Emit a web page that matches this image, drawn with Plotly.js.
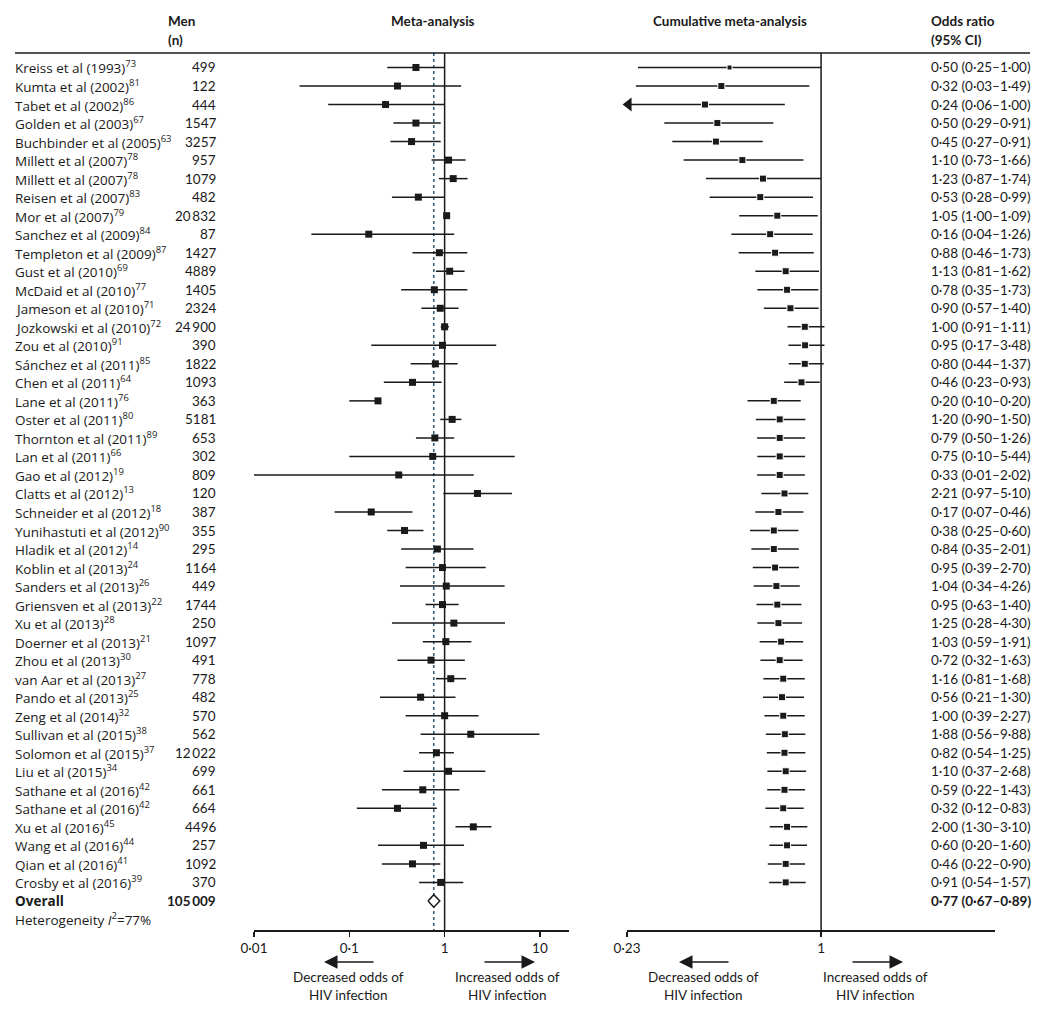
<!DOCTYPE html>
<html><head><meta charset="utf-8">
<script src="https://cdn.plot.ly/plotly-3.0.1.min.js"></script>
<style>html,body{margin:0;padding:0;background:#fff}#chart{width:1050px;height:1019px}</style>
</head><body><div id="chart"></div>
<script>
// ---------- data ----------
const studies = ["Kreiss et al (1993)","Kumta et al (2002)","Tabet et al (2002)","Golden et al (2003)","Buchbinder et al (2005)","Millett et al (2007)","Millett et al (2007)","Reisen et al (2007)","Mor et al (2007)","Sanchez et al (2009)","Templeton et al (2009)","Gust et al (2010)","McDaid et al (2010)","Jameson et al (2010)","Jozkowski et al (2010)","Zou et al (2010)","Sánchez et al (2011)","Chen et al (2011)","Lane et al (2011)","Oster et al (2011)","Thornton et al (2011)","Lan et al (2011)","Gao et al (2012)","Clatts et al (2012)","Schneider et al (2012)","Yunihastuti et al (2012)","Hladik et al (2012)","Koblin et al (2013)","Sanders et al (2013)","Griensven et al (2013)","Xu et al (2013)","Doerner et al (2013)","Zhou et al (2013)","van Aar et al (2013)","Pando et al (2013)","Zeng et al (2014)","Sullivan et al (2015)","Solomon et al (2015)","Liu et al (2015)","Sathane et al (2016)","Sathane et al (2016)","Xu et al (2016)","Wang et al (2016)","Qian et al (2016)","Crosby et al (2016)"];
const refs = [73,81,86,67,63,78,78,83,79,84,87,69,77,71,72,91,85,64,76,80,89,66,19,13,18,90,14,24,26,22,28,21,30,27,25,32,38,37,34,42,42,45,44,41,39];
const menN = [499,122,444,1547,3257,957,1079,482,20832,87,1427,4889,1405,2324,24900,390,1822,1093,363,5181,653,302,809,120,387,355,295,1164,449,1744,250,1097,491,778,482,570,562,12022,699,661,664,4496,257,1092,370];
const orEst = [0.50,0.32,0.24,0.50,0.45,1.10,1.23,0.53,1.05,0.16,0.88,1.13,0.78,0.90,1.00,0.95,0.80,0.46,0.20,1.20,0.79,0.75,0.33,2.21,0.17,0.38,0.84,0.95,1.04,0.95,1.25,1.03,0.72,1.16,0.56,1.00,1.88,0.82,1.10,0.59,0.32,2.00,0.60,0.46,0.91];
const orLo  = [0.25,0.03,0.06,0.29,0.27,0.73,0.87,0.28,1.00,0.04,0.46,0.81,0.35,0.57,0.91,0.17,0.44,0.23,0.10,0.90,0.50,0.10,0.01,0.97,0.07,0.25,0.35,0.39,0.34,0.63,0.28,0.59,0.32,0.81,0.21,0.39,0.56,0.54,0.37,0.22,0.12,1.30,0.20,0.22,0.54];
const orHi  = [1.00,1.49,1.00,0.91,0.91,1.66,1.74,0.99,1.09,1.26,1.73,1.62,1.73,1.40,1.11,3.48,1.37,0.93,0.20,1.50,1.26,5.44,2.02,5.10,0.46,0.60,2.01,2.70,4.26,1.40,4.30,1.91,1.63,1.68,1.30,2.27,9.88,1.25,2.68,1.43,0.83,3.10,1.60,0.90,1.57];
const cumEst = [0.50,0.47,0.415,0.456,0.451,0.551,0.644,0.631,0.718,0.680,0.706,0.765,0.773,0.793,0.884,0.886,0.884,0.862,0.699,0.731,0.731,0.731,0.731,0.758,0.724,0.699,0.699,0.706,0.713,0.718,0.724,0.739,0.731,0.751,0.744,0.751,0.760,0.758,0.765,0.758,0.751,0.773,0.773,0.765,0.765];
const cumLo  = [0.25,0.246,0.225,0.305,0.324,0.353,0.418,0.430,0.538,0.507,0.536,0.608,0.617,0.648,0.775,0.781,0.783,0.756,0.573,0.610,0.616,0.617,0.616,0.636,0.608,0.584,0.590,0.596,0.600,0.613,0.617,0.628,0.632,0.646,0.644,0.651,0.658,0.663,0.666,0.665,0.656,0.678,0.676,0.668,0.675];
const cumHi  = [1.00,0.915,0.76,0.697,0.643,0.875,1.00,0.941,0.975,0.939,0.946,0.985,0.98,0.982,1.026,1.026,1.02,0.99,0.857,0.888,0.886,0.886,0.884,0.908,0.875,0.842,0.845,0.846,0.851,0.862,0.866,0.873,0.870,0.884,0.879,0.884,0.888,0.888,0.893,0.886,0.877,0.901,0.899,0.886,0.890];
const overallN = 105009;
const overallOR = [0.77, 0.67, 0.89];
const heterogeneityI2 = 77;
const leftTicks = [0.01, 0.1, 1, 10];
const leftTickText = ["0·01", "0·1", "1", "10"];
const rightTicks = [0.23, 1];
const rightTickText = ["0·23", "1"];
const nullValue = 1;

// ---------- helpers ----------
const W = 1050, H = 1019;
const px = x => x / W;
const py = y => 1 - y / H;
const FONT = 'Lato, "Open Sans", sans-serif';
const NAMEFONT = '"Open Sans", Lato, sans-serif';
const INK = '#1a1a1a';
const FS = 13.5;
const fmt = v => v.toFixed(2).replace('.', '·');
const fmtN = n => n >= 10000 ? String(n).replace(/(\d)(?=(\d{3})+$)/g, '$1\u2009') : String(n);
const rows = studies.map((_, i) => i + 1);
const overallRow = studies.length + 1;
const hetRow = studies.length + 2;
const yTop = 0.217, yBot = 47.57;

function ciPath(lo, hi) {
  const xs = [], ys = [];
  lo.forEach((l, i) => { xs.push(l, hi[i], null); ys.push(rows[i], rows[i], null); });
  return {xs, ys};
}
const rightMin = rightTicks[0];
const leftCI = ciPath(orLo, orHi);
const rightCI = ciPath(cumLo, cumHi);
// CI bounds that fall below the axis minimum are shown as arrows at the axis edge
const arrowRows = [], arrowX = [];
cumLo.forEach((l, i) => { if (l < rightMin) { arrowRows.push(rows[i]); arrowX.push(rightMin * 1.012); } });

const traces = [
  {x:[nullValue,nullValue], y:[yTop,yBot], xaxis:'x', yaxis:'y', mode:'lines', line:{color:INK,width:1.5}},
  {x:[overallOR[0],overallOR[0]], y:[yTop,yBot], xaxis:'x', yaxis:'y', mode:'lines', line:{color:'#2e5a73',width:1.5,dash:'3px,3px'}},
  {x:leftCI.xs, y:leftCI.ys, xaxis:'x', yaxis:'y', mode:'lines', line:{color:INK,width:1.5}},
  {x:orEst, y:rows, xaxis:'x', yaxis:'y', mode:'markers', marker:{symbol:'square',size:7,color:INK,opacity:1}},
  {x:[overallOR[1],overallOR[0],overallOR[2],overallOR[0],overallOR[1]],
   y:[overallRow,overallRow-0.34,overallRow,overallRow+0.34,overallRow],
   xaxis:'x', yaxis:'y', mode:'lines', fill:'toself', fillcolor:'#ffffff', line:{color:INK,width:1.5}},
  {x:[nullValue,nullValue], y:[yTop,yBot], xaxis:'x2', yaxis:'y', mode:'lines', line:{color:INK,width:1.5}},
  {x:rightCI.xs, y:rightCI.ys, xaxis:'x2', yaxis:'y', mode:'lines', line:{color:INK,width:1.5}},
  {x:cumEst, y:rows, xaxis:'x2', yaxis:'y', mode:'markers', marker:{symbol:'square',size:rows.map(r => r === 1 ? 5 : 7),color:INK,opacity:1}},
  {x:arrowX, y:arrowRows, xaxis:'x2', yaxis:'y', mode:'markers', cliponaxis:false, marker:{symbol:'triangle-left',size:12,color:INK,opacity:1}}
].map(t => Object.assign({showlegend:false, hoverinfo:'skip'}, t));

const ann = [];
const txt = (x, y, text, o = {}) => ann.push(Object.assign({
  xref:'paper', yref:'paper', x:px(x), y:py(y), text, showarrow:false,
  xanchor:'left', yanchor:'middle', font:{family:FONT,size:FS,color:INK}, borderpad:0
}, o));
const rowTxt = (x, r, text, anchor, family) => ann.push({xref:'paper', yref:'y', x:px(x), y:r, text, showarrow:false,
  xanchor:anchor, yanchor:'middle', font:{family:family,size:FS,color:INK}, borderpad:0});
// headers
txt(167, 21, '<b>Men</b>');
txt(167, 40, '<b>(n)</b>');
txt(433, 21, '<b>Meta-analysis</b>', {xanchor:'center'});
txt(730, 21, '<b>Cumulative meta-analysis</b>', {xanchor:'center'});
txt(930, 21, '<b>Odds ratio</b>');
txt(930, 40, '<b>(95% CI)</b>');
// rows
studies.forEach((s, i) => {
  const r = rows[i];
  rowTxt(14, r, `${s}<sup>${refs[i]}</sup>`, 'left', NAMEFONT);
  rowTxt(217, r, fmtN(menN[i]), 'right', FONT);
  rowTxt(930, r, `${fmt(orEst[i])} (${fmt(orLo[i])}–${fmt(orHi[i])})`, 'left', FONT);
});
rowTxt(14, overallRow, '<b>Overall</b>', 'left', NAMEFONT);
rowTxt(217, overallRow, `<b>${fmtN(overallN)}</b>`, 'right', FONT);
rowTxt(930, overallRow, `<b>${fmt(overallOR[0])} (${fmt(overallOR[1])}–${fmt(overallOR[2])})</b>`, 'left', FONT);
rowTxt(14, hetRow, `Heterogeneity <i>I</i><sup>2</sup>=${heterogeneityI2}%`, 'left', NAMEFONT);
// direction arrows and labels
const arrow = (tipX, tailX, y) => ann.push({xref:'paper', yref:'paper', x:px(tipX), y:py(y), ax:tailX - tipX, ay:0, text:'', showarrow:true, arrowhead:2, arrowsize:1.8, arrowwidth:1.5, arrowcolor:INK});
arrow(324, 375, 962); arrow(535, 483, 962);
arrow(679, 730, 962); arrow(903, 851, 962);
txt(348, 986, 'Decreased odds of<br>HIV infection', {xanchor:'center'});
txt(507, 986, 'Increased odds of<br>HIV infection', {xanchor:'center'});
txt(703, 986, 'Decreased odds of<br>HIV infection', {xanchor:'center'});
txt(875, 986, 'Increased odds of<br>HIV infection', {xanchor:'center'});

const axisCommon = {type:'log', showgrid:false, zeroline:false, showline:true, linecolor:INK, linewidth:1.5,
  ticks:'outside', ticklen:5, tickwidth:1.5, tickcolor:INK, tickfont:{family:FONT,size:FS,color:INK}, fixedrange:true, anchor:'y'};

const layout = {
  width:W, height:H, margin:{l:0,r:0,t:0,b:0,pad:0},
  paper_bgcolor:'#fff', plot_bgcolor:'rgba(0,0,0,0)',
  font:{family:FONT,size:FS,color:INK},
  xaxis:Object.assign({}, axisCommon, {domain:[px(254), px(569)], range:[-2, 1.305], tickvals:leftTicks, ticktext:leftTickText}),
  xaxis2:Object.assign({}, axisCommon, {domain:[px(627), px(995)], range:[Math.log10(0.23), 0.572], tickvals:rightTicks, ticktext:rightTickText}),
  yaxis:{domain:[py(930), py(53)], range:[yBot, yTop], visible:false, fixedrange:true},
  shapes:[{type:'line', xref:'paper', yref:'paper', x0:px(15), x1:px(1030), y0:py(53), y1:py(53), line:{color:INK,width:1.5}}],
  annotations:ann
};
Plotly.newPlot('chart', traces, layout, {staticPlot:true, displayModeBar:false});
</script>
</body></html>
